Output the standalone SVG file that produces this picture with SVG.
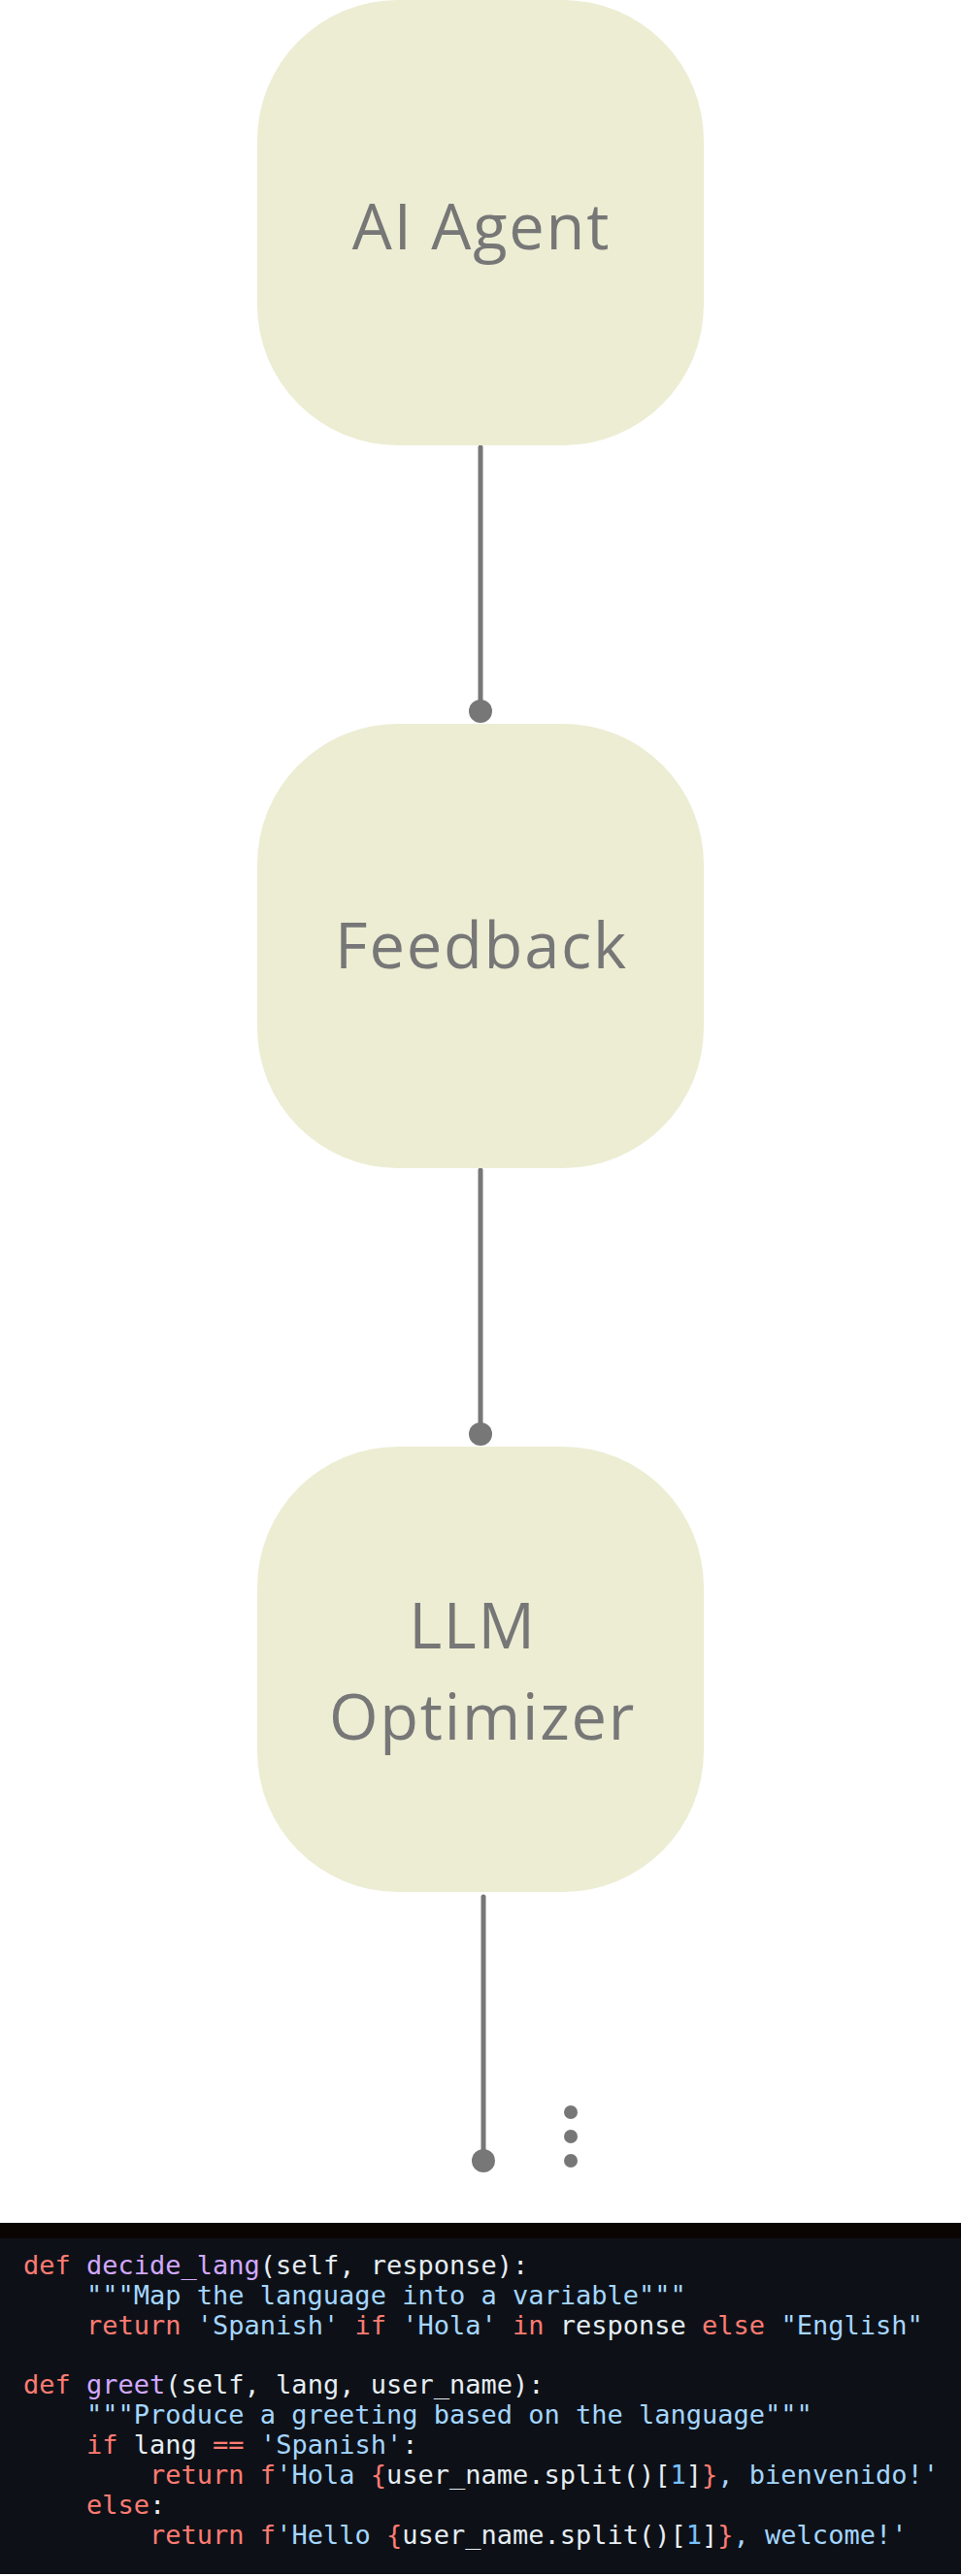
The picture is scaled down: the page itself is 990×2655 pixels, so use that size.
<svg xmlns="http://www.w3.org/2000/svg" width="990" height="2655" viewBox="0 0 990 2655">
<style>
.node{fill:#ecedd3}
.lbl{font-family:"Open Sans","Noto Sans",sans-serif;font-size:65px;letter-spacing:1.8px;fill:#777777;text-anchor:middle}
.conn{stroke:#777777;stroke-width:5;stroke-linecap:round;fill:none}
.dot{fill:#777777}
.code{font-family:"DejaVu Sans Mono","Liberation Mono",monospace;font-size:27px;fill:#e6edf3}
.k{fill:#ff7b72}.f{fill:#d2a8ff}.s{fill:#a5d6ff}.n{fill:#79c0ff}
</style>
<rect width="990" height="2655" fill="#ffffff"/>
<g id="connectors">
<line class="conn" x1="495" y1="461" x2="495" y2="733"/>
<circle class="dot" cx="495" cy="733" r="12"/>
<line class="conn" x1="495" y1="1206" x2="495" y2="1478"/>
<circle class="dot" cx="495" cy="1478" r="12"/>
<line class="conn" x1="498" y1="1955" x2="498" y2="2227"/>
<circle class="dot" cx="498" cy="2227" r="12"/>
<circle class="dot" cx="588" cy="2177" r="7"/>
<circle class="dot" cx="588" cy="2202" r="7"/>
<circle class="dot" cx="588" cy="2227" r="7"/>
</g>
<g id="node-ai-agent">
<rect class="node" x="265" y="0" width="460" height="459" rx="145" ry="145"/>
<text class="lbl" x="496" y="257">AI Agent</text>
</g>
<g id="node-feedback">
<rect class="node" x="265" y="746" width="460" height="458" rx="145" ry="145"/>
<text class="lbl" x="496" y="998">Feedback</text>
</g>
<g id="node-llm-optimizer">
<rect class="node" x="265" y="1491" width="460" height="459" rx="145" ry="145"/>
<text class="lbl" x="487" y="1699">LLM</text>
<text class="lbl" x="497" y="1793">Optimizer</text>
</g>
<g id="code">
<rect x="0" y="2291" width="990" height="16" fill="#0a0403"/>
<rect x="0" y="2307" width="990" height="346" fill="#0d1117"/>
<text class="code" x="24" y="2344" xml:space="preserve"><tspan class="k">def</tspan> <tspan class="f">decide_lang</tspan>(self, response):</text>
<text class="code" x="24" y="2375" xml:space="preserve">    <tspan class="s">"""Map the language into a variable"""</tspan></text>
<text class="code" x="24" y="2406" xml:space="preserve">    <tspan class="k">return</tspan> <tspan class="s">'Spanish'</tspan> <tspan class="k">if</tspan> <tspan class="s">'Hola'</tspan> <tspan class="k">in</tspan> response <tspan class="k">else</tspan> <tspan class="s">"English"</tspan></text>
<text class="code" x="24" y="2467" xml:space="preserve"><tspan class="k">def</tspan> <tspan class="f">greet</tspan>(self, lang, user_name):</text>
<text class="code" x="24" y="2498" xml:space="preserve">    <tspan class="s">"""Produce a greeting based on the language"""</tspan></text>
<text class="code" x="24" y="2529" xml:space="preserve">    <tspan class="k">if</tspan> lang <tspan class="k">==</tspan> <tspan class="s">'Spanish'</tspan>:</text>
<text class="code" x="24" y="2560" xml:space="preserve">        <tspan class="k">return</tspan> <tspan class="k">f</tspan><tspan class="s">'Hola </tspan><tspan class="k">{</tspan>user_name.split()[<tspan class="n">1</tspan>]<tspan class="k">}</tspan><tspan class="s">, bienvenido!'</tspan></text>
<text class="code" x="24" y="2591" xml:space="preserve">    <tspan class="k">else</tspan>:</text>
<text class="code" x="24" y="2622" xml:space="preserve">        <tspan class="k">return</tspan> <tspan class="k">f</tspan><tspan class="s">'Hello </tspan><tspan class="k">{</tspan>user_name.split()[<tspan class="n">1</tspan>]<tspan class="k">}</tspan><tspan class="s">, welcome!'</tspan></text>
</g>
</svg>
